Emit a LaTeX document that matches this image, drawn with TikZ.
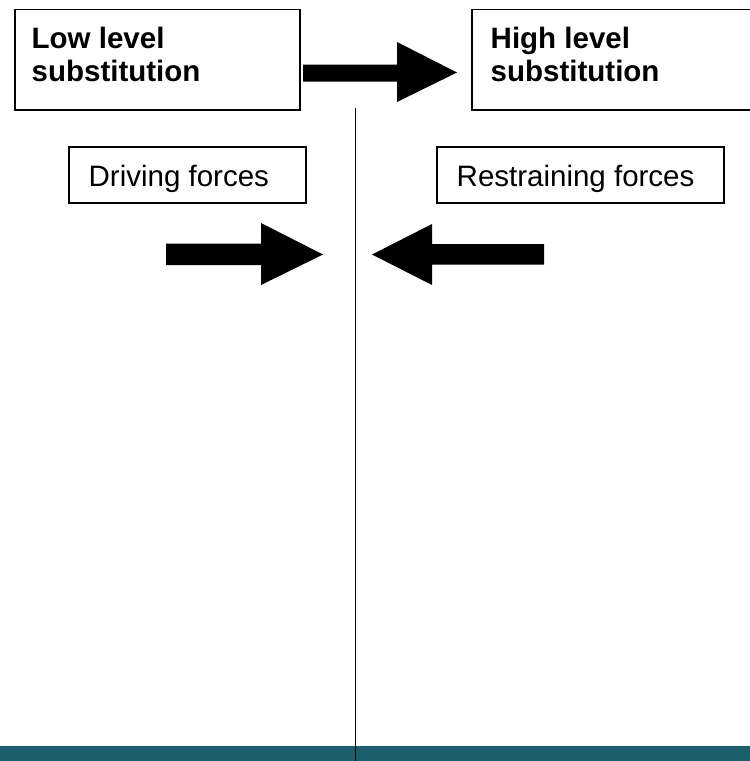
\documentclass[tikz,border=0pt]{standalone}
\usepackage{fontspec}
\setmainfont{Liberation Sans}
\definecolor{bandteal}{RGB}{26,95,107}
\tikzset{
  bigbox/.style={draw=black, line width=1.6pt, fill=white, inner sep=0pt, rectangle},
  smallbox/.style={draw=black, line width=1.2pt, fill=white, inner sep=0pt, rectangle},
  boldlabel/.style={inner sep=0pt, anchor=base west, font=\fontsize{29.5pt}{33.4pt}\selectfont\bfseries},
  plainlabel/.style={inner sep=0pt, anchor=base west, font=\fontsize{29.5pt}{33.4pt}\selectfont},
  blockarrow/.style={fill=black, draw=none}
}
\begin{document}
\begin{tikzpicture}[x=1pt, y=-1pt]
\clip (0,0) rectangle (750,761);
\fill[white] (0,0) rectangle (750,761);
% boxes
\node[bigbox, minimum width=285pt, minimum height=100.5pt] (low) at (157.5,59.75) {};
\node[bigbox, minimum width=298pt, minimum height=100.5pt] (high) at (621,59.75) {};
\node[smallbox, minimum width=237pt, minimum height=56pt] (drivebox) at (187.5,175) {};
\node[smallbox, minimum width=287pt, minimum height=56pt] (restbox) at (580.5,175) {};
% labels
\node[boldlabel] (lowA) at (31.5,48.3) {Low level};
\node[boldlabel] (lowB) at (31.5,81.8) {substitution};
\node[boldlabel] (highA) at (490.5,48.3) {High level};
\node[boldlabel] (highB) at (490.5,81.8) {substitution};
\node[plainlabel] (drive) at (88.5,186.8) {Driving forces};
\node[plainlabel] (rest) at (456.5,186.8) {Restraining forces};
% block arrows
\fill[blockarrow] (303,64.5) -- (397,64.5) -- (397,42) -- (457,72.5) -- (397,102) -- (397,81.5) -- (303,81.5) -- cycle;
\fill[blockarrow] (166,243.5) -- (261,243.5) -- (261,223) -- (323,254.5) -- (261,285) -- (261,265) -- (166,265) -- cycle;
\fill[blockarrow] (544,244) -- (432,244) -- (432,224) -- (372,254.5) -- (432,285) -- (432,264.5) -- (544,264.5) -- cycle;
% bottom band
\fill[bandteal] (0,746) rectangle (750,761);
% divider line
\coordinate (lineTop) at (355.5,108);
\coordinate (lineBot) at (355.5,761);
\draw[line width=1.3pt, black] (lineTop) -- (lineBot);
\end{tikzpicture}
\end{document}
